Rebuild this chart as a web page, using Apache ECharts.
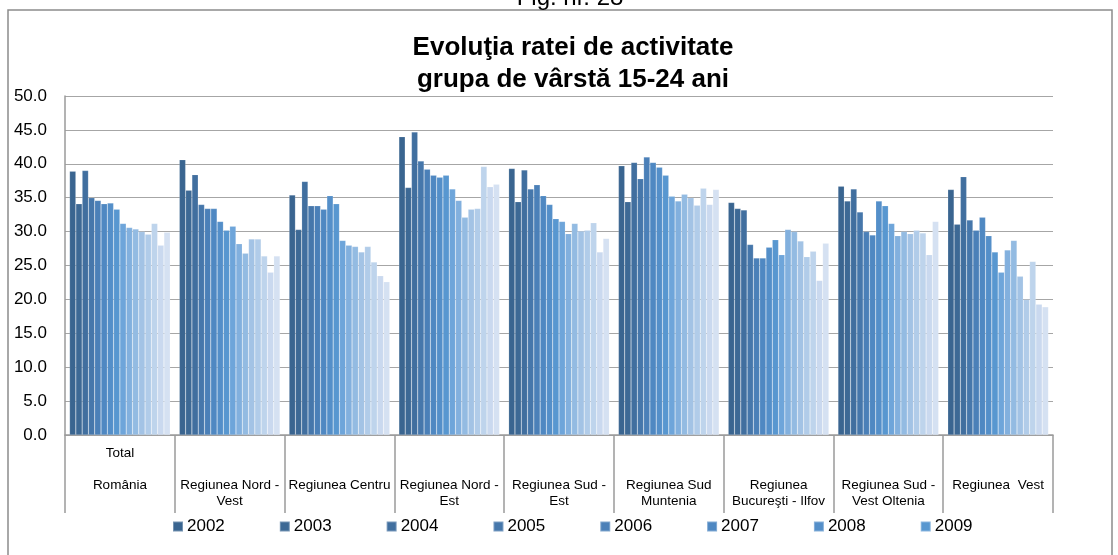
<!DOCTYPE html>
<html>
<head>
<meta charset="utf-8">
<title>Evoluţia ratei de activitate</title>
<script src="https://cdn.jsdelivr.net/npm/echarts@6/dist/echarts.min.js"></script>
<style>
    html, body { margin: 0; padding: 0; background: #fff; }
    #e-main { width: 1118px; height: 555px; }
</style>
</head>
<body>
<div id="e-main"></div>
<script>
// regiuni (etichete axa x)
var regiuni = [
    'Total\n\nRomânia',
    'Regiunea Nord -\nVest',
    'Regiunea Centru',
    'Regiunea Nord -\nEst',
    'Regiunea Sud -\nEst',
    'Regiunea Sud\nMuntenia',
    'Regiunea\nBucureşti - Ilfov',
    'Regiunea Sud -\nVest Oltenia',
    'Regiunea  Vest'
];

// numele seriilor (doar primele 8 apar in legenda)
var ani = ['2002', '2003', '2004', '2005', '2006', '2007', '2008', '2009',
    '2010', '2011', '2012', '2013', '2014', '2015', '2016', '2017'];
var aniLegenda = ani.slice(0, 8);

// valori, cate o lista pe regiune (16 bare)
var totalRomania   = [38.9, 34.1, 39.0, 35.0, 34.6, 34.1, 34.2, 33.3, 31.2, 30.6, 30.4, 30.0, 29.6, 31.2, 28.0, 29.9];
var nordVest       = [40.6, 36.1, 38.4, 34.0, 33.4, 33.4, 31.5, 30.2, 30.8, 28.2, 26.8, 28.9, 28.9, 26.4, 24.0, 26.4];
var centru         = [35.4, 30.3, 37.4, 33.8, 33.8, 33.3, 35.3, 34.1, 28.7, 28.0, 27.8, 27.0, 27.8, 25.5, 23.5, 22.6];
var nordEst        = [44.0, 36.5, 44.7, 40.4, 39.2, 38.3, 38.0, 38.3, 36.3, 34.6, 32.1, 33.3, 33.4, 39.6, 36.6, 37.0];
var sudEst         = [39.3, 34.4, 39.1, 36.3, 36.9, 35.3, 34.0, 31.9, 31.5, 29.7, 31.2, 30.1, 30.2, 31.3, 27.0, 29.0];
var sudMuntenia    = [39.7, 34.4, 40.2, 37.8, 41.0, 40.2, 39.5, 38.3, 35.2, 34.5, 35.5, 35.0, 33.9, 36.4, 34.0, 36.2];
var bucurestiIlfov = [34.3, 33.4, 33.2, 28.1, 26.1, 26.1, 27.7, 28.8, 26.6, 30.3, 30.0, 28.6, 26.3, 27.1, 22.8, 28.3];
var sudVestOltenia = [36.7, 34.5, 36.3, 32.9, 30.0, 29.5, 34.5, 33.8, 31.2, 29.4, 30.0, 29.7, 30.2, 29.8, 26.6, 31.5];
var vest           = [36.2, 31.1, 38.1, 31.7, 30.2, 32.1, 29.4, 27.0, 24.0, 27.3, 28.7, 23.4, 20.0, 25.6, 19.3, 18.9];

var valoriRegiuni = [totalRomania, nordVest, centru, nordEst, sudEst,
    sudMuntenia, bucurestiIlfov, sudVestOltenia, vest];

// gradient de albastru, de la inchis la deschis
var culori = ['#3a6590', '#3d6995', '#416f9f', '#4677ab', '#4b80b8', '#4f88c2', '#548fc9', '#5897d0',
    '#6ea5da', '#82b0de', '#93bbe2', '#a3c3e5', '#b1cce9', '#bed4ec', '#cad9ef', '#d5e1f2'];

var yTicks = { min: 0, max: 50, step: 5 };

var myChart = echarts.init(document.getElementById('e-main'));

// construieste seriile: o serie pentru fiecare an
function buildSeries() {
    var series = [];
    for (var i = 0; i < ani.length; i++) {
        var data = [];
        for (var r = 0; r < valoriRegiuni.length; r++) {
            data.push(valoriRegiuni[r][i]);
        }
        series.push({
            name: ani[i],
            type: 'bar',
            data: data,
            barGap: '0%',
            barCategoryGap: '8.3%',
            itemStyle: {
                color: culori[i],
                borderColor: 'rgba(255,255,255,0.3)',
                borderWidth: 0.5
            },
            animation: false
        });
    }
    return series;
}

var font = '"Liberation Sans", Arial, sans-serif';

var option = {
    backgroundColor: '#fff',
    textStyle: { fontFamily: font, color: '#000' },
    title: {
        text: 'Evoluţia ratei de activitate\ngrupa de vârstă 15-24 ani',
        left: 573,
        top: 32,
        padding: 0,
        textAlign: 'center',
        textStyle: {
            fontFamily: font,
            fontSize: 26,
            fontWeight: 'bold',
            lineHeight: 32,
            color: '#000'
        }
    },
    graphic: [
        {
            type: 'rect',
            shape: { x: 8, y: 10, width: 1104, height: 570 },
            style: { fill: 'none', stroke: '#8c8c8c', lineWidth: 1.5 },
            silent: true
        },
        {
            type: 'text',
            x: 570,
            y: 10,
            style: {
                text: 'Fig. nr. 28',
                font: '24px ' + font,
                fill: '#000',
                textAlign: 'center',
                textVerticalAlign: 'bottom'
            },
            silent: true
        }
    ],
    legend: {
        data: aniLegenda,
        left: 172,
        top: 518,
        padding: 0,
        itemWidth: 10,
        itemHeight: 10,
        itemGap: 54,
        icon: 'rect',
        textStyle: { fontFamily: font, fontSize: 17, color: '#000', padding: [0, 0, 0, -1] }
    },
    grid: {
        left: 65,
        right: 65,
        top: 96,
        bottom: 120
    },
    xAxis: {
        type: 'category',
        data: regiuni,
        axisLine: { show: true, lineStyle: { color: '#9a9a9a', width: 1.5 } },
        axisTick: {
            show: true,
            length: 78,
            interval: 0,
            lineStyle: { color: '#9a9a9a', width: 1.5 }
        },
        axisLabel: {
            interval: 0,
            margin: 10,
            fontFamily: font,
            fontSize: 13.5,
            lineHeight: 16,
            color: '#000',
            formatter: function (v) {
                // "Total" sta cu doua randuri mai sus
                return v.indexOf('Total') === 0 ? v : '\n\n' + v;
            }
        }
    },
    yAxis: {
        type: 'value',
        min: yTicks.min,
        max: yTicks.max,
        interval: yTicks.step,
        axisLine: { show: true, lineStyle: { color: '#9a9a9a', width: 1.5 } },
        axisTick: { show: false },
        splitLine: { show: true, lineStyle: { color: '#a6a6a6', width: 1.2 } },
        axisLabel: {
            margin: 18,
            fontFamily: font,
            fontSize: 17,
            color: '#000',
            formatter: function (v) { return v.toFixed(1); }
        }
    },
    series: buildSeries()
};

myChart.setOption(option, true);
</script>
</body>
</html>
